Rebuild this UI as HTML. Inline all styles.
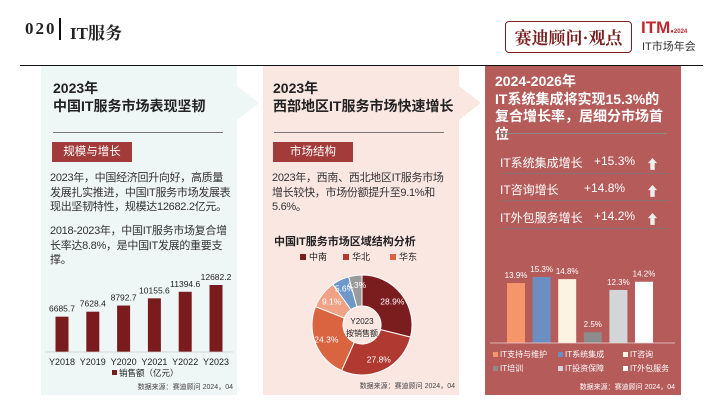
<!DOCTYPE html>
<html><head><meta charset="utf-8"><style>
*{margin:0;padding:0;box-sizing:border-box}
body{width:720px;height:405px;background:#fff;position:relative;overflow:hidden;font-family:"Liberation Sans","Noto Sans CJK SC",sans-serif;color:#222}
.a{position:absolute;white-space:nowrap}
.t{font-size:14px;font-weight:bold;line-height:18px}
.p{font-size:11px;line-height:14.5px;color:#333;letter-spacing:-0.3px}
.tag{background:#a33b3b;color:#fff;font-size:11.5px;text-align:center;line-height:20px}
</style></head><body>
<div class="a" style="left:25px;top:19px;font:bold 17px 'Liberation Serif','Noto Serif CJK SC',serif;letter-spacing:2px">020</div>
<div class="a" style="left:59px;top:18px;width:2px;height:22px;background:#111"></div>
<div class="a" style="left:70px;top:19px;font:bold 17px 'Liberation Serif','Noto Serif CJK SC',serif">IT服务</div>
<div class="a" style="left:505px;top:21px;width:127px;height:32px;border:1px solid #7a1f1f;border-radius:4px;color:#7a1f1f;font:bold 17px 'Noto Serif CJK SC',serif;text-align:center;line-height:30px">赛迪顾问·观点</div>
<div class="a" style="left:641px;top:18px;font:bold 17px 'Liberation Sans',sans-serif;color:#c0262d">ITM<span style="font-size:6px;color:#c0262d">●2024</span></div>
<div class="a" style="left:642px;top:38px;font-size:11px;color:#333">IT市场年会</div>
<div class="a" style="left:20px;top:65px;width:683px;height:1px;background:#111"></div>

<!-- panel 1 -->
<div class="a" style="left:41px;top:66px;width:196px;height:329px;background:#eef6f6"></div>
<div class="a" style="left:237px;top:86px;width:0;height:0;border-top:17px solid transparent;border-bottom:17px solid transparent;border-left:22px solid #eef6f6"></div>
<div class="a t" style="left:53px;top:79px">2023年<br>中国IT服务市场表现坚韧</div>
<div class="a" style="left:53px;top:132px;width:170px;height:1px;background:#777"></div>
<div class="a tag" style="left:52px;top:142px;width:80px;height:20px">规模与增长</div>
<div class="a p" style="left:50px;top:171px">2023年，中国经济回升向好，高质量<br>发展扎实推进，中国IT服务市场发展表<br>现出坚韧特性，规模达12682.2亿元。</div>
<div class="a p" style="left:50px;top:224px">2018-2023年，中国IT服务市场复合增<br>长率达8.8%，是中国IT发展的重要支<br>撑。</div>
<svg class="a" id="c1" style="left:41px;top:260px" width="196" height="135"></svg>

<!-- panel 2 -->
<div class="a" style="left:263px;top:66px;width:196px;height:329px;background:#fbe7e2"></div>
<div class="a" style="left:459px;top:86px;width:0;height:0;border-top:17px solid transparent;border-bottom:17px solid transparent;border-left:22px solid #fbe7e2"></div>
<div class="a t" style="left:273px;top:79px">2023年<br>西部地区IT服务市场快速增长</div>
<div class="a" style="left:274px;top:132px;width:170px;height:1px;background:#777"></div>
<div class="a tag" style="left:273px;top:142px;width:80px;height:20px">市场结构</div>
<div class="a p" style="left:272px;top:171px">2023年，西南、西北地区IT服务市场<br>增长较快，市场份额提升至9.1%和<br>5.6%。</div>
<div class="a" style="left:274px;top:233px;font-size:11px;font-weight:bold">中国IT服务市场区域结构分析</div>
<svg class="a" id="c2" style="left:263px;top:248px" width="196" height="147"></svg>

<!-- panel 3 -->
<div class="a" style="left:485px;top:66px;width:196px;height:329px;background:#b55c5a"></div>
<div class="a t" style="left:495px;top:73px;color:#fff;line-height:17.5px">2024-2026年<br>IT系统集成将实现15.3%的<br>复合增长率，居细分市场首<br>位</div>
<div class="a" style="left:497px;top:133px;width:170px;height:1px;background:#8a8a8a"></div>
<div class="a" style="left:500px;top:154px;width:170px;height:20px;border-bottom:1px solid #8a7070;color:#fff;font-size:12px">IT系统集成增长<span style="position:absolute;left:94px">+15.3%</span><span style="position:absolute;left:146px;font-size:13px;color:#eee">⬆</span></div>
<div class="a" style="left:500px;top:181px;width:170px;height:20px;border-bottom:1px solid #8a7070;color:#fff;font-size:12px">IT咨询增长<span style="position:absolute;left:84px">+14.8%</span><span style="position:absolute;left:146px;font-size:13px;color:#eee">⬆</span></div>
<div class="a" style="left:500px;top:209px;width:170px;height:20px;border-bottom:1px solid #8a7070;color:#fff;font-size:12px">IT外包服务增长<span style="position:absolute;left:94px">+14.2%</span><span style="position:absolute;left:146px;font-size:13px;color:#eee">⬆</span></div>
<svg class="a" id="c3" style="left:485px;top:250px" width="196" height="145"></svg>

<script>
const NS="http://www.w3.org/2000/svg";
function mk(svg,tag,attrs,txt){const e=document.createElementNS(NS,tag);for(const k in attrs)e.setAttribute(k,attrs[k]);if(txt!==undefined)e.textContent=txt;svg.appendChild(e);return e;}

// chart 1
const years=["Y2018","Y2019","Y2020","Y2021","Y2022","Y2023"];
const sales=[6685.7,7628.4,8792.7,10155.6,11394.6,12682.2];
const salesLabels=["6685.7","7628.4","8792.7","10155.6","11394.6","12682.2"];
(function(){
 const s=document.getElementById('c1');const base=92,k=67/12682.2;
 const x=i=>21+i*30.8;const y=v=>base-v*k;
 years.forEach((c,i)=>{
  const b=mk(s,'rect',{x:x(i)-6.5,y:y(sales[i]),width:13,height:base-y(sales[i]),fill:'#7a1c1e'});
  
  
  const l=mk(s,'text',{x:x(i),y:y(sales[i])-5,'font-size':8.5,'text-anchor':'middle',fill:'#222'},salesLabels[i]);
  
  
  const t=mk(s,'text',{x:x(i),y:base+13,'font-size':9,'text-anchor':'middle',fill:'#222'},c);
  
  
 });
 mk(s,'line',{x1:4,x2:192,y1:base,y2:base,stroke:'#ccc','stroke-width':0.7});
 mk(s,'rect',{x:71,y:110,width:5,height:5,fill:'#7a1c1e'});
 const lg=mk(s,'text',{x:78,y:116,'font-size':8.5,fill:'#222'},'销售额（亿元）');
 
 
 mk(s,'text',{x:192,y:129,'font-size':7,'text-anchor':'end',fill:'#444'},'数据来源：赛迪顾问 2024，04');
})();

// chart 2
const regions=["中南","华北","华东","西南","西北","其他"];
const shares=[28.9,27.8,24.3,9.1,5.6,4.3];
const shareLabels=["28.9%","27.8%","24.3%","9.1%","5.6%","4.3%"];
const regionColors=["#7b1c1e","#b03a32","#d9643f","#f0a287","#6f97c8","#9a9a9a"];
(function(){
 const s=document.getElementById('c2');const cx=99,cy=77,R=50,r=19;
 const tot=shares.reduce((a,b)=>a+b,0);
 let a0=-Math.PI/2;
 const pt=(a,rr)=>[cx+rr*Math.cos(a),cy+rr*Math.sin(a)];
 shares.forEach((v,i)=>{
  const a1=a0+v/tot*2*Math.PI;const lg=(a1-a0)>Math.PI?1:0;
  const [x0,y0]=pt(a0,R),[x1,y1]=pt(a1,R),[x2,y2]=pt(a1,r),[x3,y3]=pt(a0,r);
  const p=mk(s,'path',{d:`M${x0},${y0}A${R},${R} 0 ${lg} 1 ${x1},${y1}L${x2},${y2}A${r},${r} 0 ${lg} 0 ${x3},${y3}Z`,fill:regionColors[i],stroke:'#fff','stroke-width':1});
  
  
  const m=(a0+a1)/2;const [lx,ly]=pt(m,(R+r)/2+(v<7?6:4));
  const t=mk(s,'text',{x:lx,y:ly+3,'font-size':8.5,'text-anchor':'middle',fill:'#fff'},shareLabels[i]);
  
  
  a0=a1;
 });
 mk(s,'text',{x:cx,y:cy-1,'font-size':8,'text-anchor':'middle',fill:'#222'},'Y2023');
 mk(s,'text',{x:cx,y:cy+11,'font-size':8,'text-anchor':'middle',fill:'#222'},'按销售额');
 [0,1,2].forEach(i=>{
  const lx=[37,80,127][i];
  mk(s,'rect',{x:lx,y:6,width:6,height:6,fill:regionColors[i]});
  const t=mk(s,'text',{x:lx+9,y:12,'font-size':9,fill:'#222'},regions[i]);
  
  
 });
 mk(s,'text',{x:192,y:140,'font-size':7,'text-anchor':'end',fill:'#444'},'数据来源：赛迪顾问 2024，04');
})();

// chart 3
const segments=["IT支持与维护","IT系统集成","IT咨询","IT培训","IT投资保障","IT外包服务"];
const growth=[13.9,15.3,14.8,2.5,12.3,14.2];
const growthLabels=["13.9%","15.3%","14.8%","2.5%","12.3%","14.2%"];
const segColors=["#f4956a","#6b8fc0","#fdf3e3","#8c8c8c","#d3d5d8","#ffffff"];
(function(){
 const s=document.getElementById('c3');const base=93,k=66/15.3;
 const x=i=>31+i*25.6;const y=v=>base-v*k;
 growth.forEach((v,i)=>{
  const b=mk(s,'rect',{x:x(i)-9,y:y(v),width:18,height:base-y(v),fill:segColors[i]});
  
  
  const t=mk(s,'text',{x:x(i),y:y(v)-5,'font-size':8,'text-anchor':'middle',fill:'#fff'},growthLabels[i]);
  
  
 });
 mk(s,'line',{x1:5,x2:190,y1:base,y2:base,stroke:'#e8d0d0','stroke-width':0.8});
 segments.forEach((c,i)=>{
  const lx=8+(i%3)*65,ly=107+Math.floor(i/3)*14;
  mk(s,'rect',{x:lx,y:ly-5,width:5,height:5,fill:segColors[i]});
  const t=mk(s,'text',{x:lx+7,y:ly,'font-size':8,fill:'#fff'},c);
  
  
 });
 mk(s,'text',{x:190,y:139,'font-size':7,'text-anchor':'end',fill:'#fff'},'数据来源：赛迪顾问 2024，04');
})();
</script>
</body></html>
